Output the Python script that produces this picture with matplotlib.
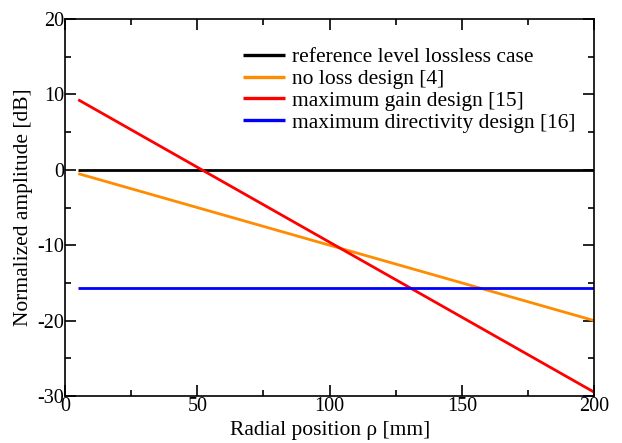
import matplotlib
matplotlib.use("Agg")
import matplotlib.pyplot as plt
from matplotlib.ticker import MultipleLocator

plt.rcParams['font.family'] = ['Liberation Serif', 'DejaVu Serif']
plt.rcParams['axes.unicode_minus'] = False

# radial position [mm] and normalized amplitude [dB]
rho = [5, 200]
ref_level = [0.0, 0.0]
no_loss = [-0.5, -20.0]
max_gain = [9.3, -29.5]
max_dir = [-15.7, -15.7]

labels = ["reference level lossless case", "no loss design [4]",
          "maximum gain design [15]", "maximum directivity design [16]"]
colors = ["black", "#ff8c00", "#ff0000", "#0000ff"]

fig = plt.figure(figsize=(6.22, 4.43), dpi=100)
ax = fig.add_axes([0.1045, 0.106, 0.851, 0.851])

for y, lab, c in zip([ref_level, no_loss, max_gain, max_dir], labels, colors):
    ax.plot(rho, y, color=c, lw=2.0, label=lab, solid_capstyle='butt')

ax.set_xlim(0, 200)
ax.set_ylim(-30, 20)
ax.xaxis.set_major_locator(MultipleLocator(50))
ax.xaxis.set_minor_locator(MultipleLocator(25))
ax.yaxis.set_major_locator(MultipleLocator(10))
ax.yaxis.set_minor_locator(MultipleLocator(5))
ax.tick_params(which='both', direction='in', top=True, right=True, labelsize=14.5, width=1.2)
ax.tick_params(which='major', length=8, pad=0.5)
ax.tick_params(which='minor', length=4)
for sp in ax.spines.values():
    sp.set_linewidth(1.2)

ax.set_xlabel("Radial position ρ [mm]", fontsize=15.5, labelpad=4)
ax.set_ylabel("Normalized amplitude [dB]", fontsize=15.5, labelpad=3)

leg = ax.legend(loc='upper left', bbox_to_anchor=(0.336, 0.925), frameon=False,
                fontsize=15.5, handlelength=1.95, handletextpad=0.35,
                labelspacing=0.08, borderaxespad=0, borderpad=0)
for h in leg.get_lines():
    h.set_linewidth(2.4)

fig.savefig("out.png", dpi=100)
